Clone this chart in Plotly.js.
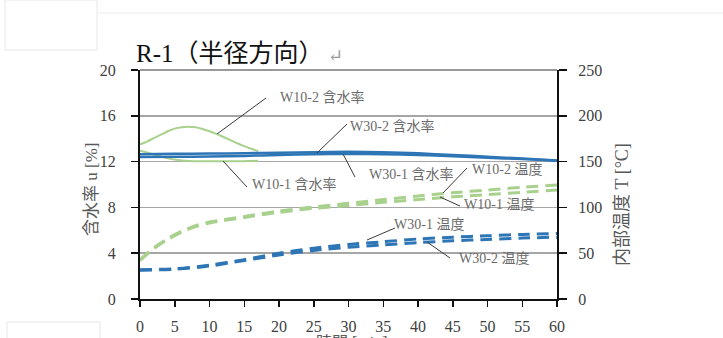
<!DOCTYPE html>
<html>
<head>
<meta charset="utf-8">
<script src="https://cdn.plot.ly/plotly-3.0.1.min.js"></script>
<style>html,body{margin:0;padding:0;background:#fff;}#chart{width:723px;height:338px;}</style>
</head>
<body>
<div id="chart"></div>
<script>
// ---- data ----
const tW10mc = [0,1,2,3,4,5,6,7,8,9,10,11,12,13,14,15,16,17];
const w10_2_mc = [13.5,13.75,14.05,14.35,14.65,14.88,15.0,15.05,15.0,14.85,14.65,14.42,14.15,13.88,13.6,13.35,13.12,12.92];
const w10_1_mc = [12.95,12.8,12.62,12.45,12.3,12.18,12.1,12.05,12.03,12.02,12.02,12.02,12.02,12.03,12.03,12.04,12.05,12.08];

const tW30mc = [0,5,10,15,20,25,30,35,40,45,50,55,60];
const w30_2_mc = [12.65,12.68,12.7,12.73,12.78,12.82,12.85,12.82,12.72,12.58,12.42,12.26,12.1];
const w30_1_mc = [12.4,12.42,12.45,12.5,12.58,12.64,12.66,12.64,12.58,12.46,12.34,12.22,12.08];

const tW10T = [0,2,4,6,8,10,15,20,25,30,35,40,45,50,55,60];
const w10_2_T = [43,56,66,74,80,84,90,96,100.5,104.5,108.5,112.5,116,119,122,124.5];
const w10_1_T = [42,55,65,73,79,83,89,94.5,99,102,105.5,108.5,111.5,114,116.5,119];

const tW30T = [0,5,10,15,20,25,30,35,40,45,50,55,60];
const w30_1_T = [32,33,37,43,50,55.5,59.5,62.5,65.5,67.5,69,70.5,71.5];
const w30_2_T = [31.5,32.5,36,42,48,53,56.5,59,61.5,63.5,65,66.5,67.5];

const xTicks = [0,5,10,15,20,25,30,35,40,45,50,55,60];
const yTicks = [0,4,8,12,16,20];
const y2Ticks = [0,50,100,150,200,250];

// ---- styling ----
const GREEN = '#A9D18E';
const BLUE = '#2E75B6';
const SERIF = '"Liberation Serif", "DejaVu Serif", "Noto Sans CJK JP", serif';
const W = 723, H = 338;
const L = 140, R = 557, T = 70, B = 299;
const px = x => (x - L) / (R - L);
const py = y => (B - y) / (B - T);

function line(x, y, name, color, width, dash, axis) {
  return {x: x, y: y, name: name, type: 'scatter', mode: 'lines', yaxis: axis || 'y',
    line: {color: color, width: width, dash: dash || 'solid', shape: 'spline', smoothing: 0.8},
    hoverinfo: 'skip'};
}
const DASH = '12px,7px';
const traces = [
  line(tW10T, w10_2_T, 'W10-2 温度', GREEN, 3, DASH, 'y2'),
  line(tW10T, w10_1_T, 'W10-1 温度', GREEN, 3, DASH, 'y2'),
  line(tW30T, w30_1_T, 'W30-1 温度', BLUE, 3, DASH, 'y2'),
  line(tW30T, w30_2_T, 'W30-2 温度', BLUE, 3, DASH, 'y2'),
  line(tW10mc, w10_2_mc, 'W10-2 含水率', GREEN, 2),
  line(tW10mc, w10_1_mc, 'W10-1 含水率', GREEN, 2),
  line(tW30mc, w30_2_mc, 'W30-2 含水率', BLUE, 2.5),
  line(tW30mc, w30_1_mc, 'W30-1 含水率', BLUE, 2.5)
];

// labels: [text, left px, center y px, line from (x1,y1) to (x2,y2)]
const labels = [
  ['W10-2 含水率', 278, 97, 266, 98, 217, 134],
  ['W30-2 含水率', 348, 126, 347, 124, 317, 153],
  ['W10-1 含水率', 250, 184, 247, 187, 223, 161],
  ['W30-1 含水率', 367, 174, 355, 177, 343, 154],
  ['W10-2 温度', 470, 169, 467, 168, 443, 193],
  ['W10-1 温度', 462, 204, 460, 206, 440, 197],
  ['W30-1 温度', 392, 224, 395, 228, 367, 240],
  ['W30-2 温度', 457, 258, 450, 258, 427, 242]
];
const annotations = labels.map(l => ({
  text: l[0], xref: 'paper', yref: 'paper', x: px(l[1]), y: py(l[2]),
  xanchor: 'left', yanchor: 'middle', showarrow: false,
  font: {family: SERIF, size: 14, color: '#6b6b6b'}
}));
const shapes = labels.map(l => ({
  type: 'line', xref: 'paper', yref: 'paper', x0: px(l[3]), y0: py(l[4]), x1: px(l[5]), y1: py(l[6]),
  line: {color: '#3a3a3a', width: 1}, layer: 'above'
}));
// top border of the plot area
shapes.push({type: 'line', xref: 'paper', yref: 'paper', x0: 0, x1: 1, y0: 1, y1: 1, line: {color: '#333', width: 1}});
// page decorations (word-processor frame)
shapes.push({type: 'rect', xref: 'paper', yref: 'paper', x0: px(5), x1: px(97), y0: py(0), y1: py(50), line: {color: '#e6e6e6', width: 1}});
shapes.push({type: 'line', xref: 'paper', yref: 'paper', x0: px(97), x1: px(723), y0: py(13), y1: py(13), line: {color: '#ececec', width: 1}});
shapes.push({type: 'rect', xref: 'paper', yref: 'paper', x0: px(7), x1: px(100), y0: py(322), y1: py(345), line: {color: '#e6e6e6', width: 1}});

// axis titles
annotations.push({text: '含水率 u [%]', xref: 'paper', yref: 'paper', x: px(91), y: py(190), textangle: -90,
  showarrow: false, xanchor: 'center', yanchor: 'middle', font: {family: SERIF, size: 17, color: '#595959'}});
annotations.push({text: '内部温度 T [°C]', xref: 'paper', yref: 'paper', x: px(622), y: py(205), textangle: -90,
  showarrow: false, xanchor: 'center', yanchor: 'middle', font: {family: SERIF, size: 18, color: '#595959'}});
annotations.push({text: '時間 [min]', xref: 'paper', yref: 'paper', x: px(352), y: py(332), showarrow: false,
  xanchor: 'center', yanchor: 'top', font: {family: SERIF, size: 16, color: '#595959'}});

const tickFont = {family: SERIF, size: 16, color: '#404040'};
const layout = {
  width: W, height: H,
  margin: {l: L, r: W - R, t: T, b: H - B, pad: 0},
  paper_bgcolor: '#fff', plot_bgcolor: '#fff',
  showlegend: false,
  title: {text: 'R-1（半径方向）<span style="color:#9a9a9a;font-size:18px"> ↵</span>',
    xref: 'container', yref: 'container', x: 136 / W, xanchor: 'left', y: 1 - 53 / H, yanchor: 'middle',
    font: {family: SERIF, size: 25, color: '#111'}},
  xaxis: {range: [0, 60], tickvals: xTicks, ticktext: xTicks.map(String), ticks: 'outside', ticklen: 6,
    tickwidth: 1.5, tickcolor: '#111', showline: true, linecolor: '#111', linewidth: 2, showgrid: false,
    zeroline: false, tickfont: tickFont, ticklabelstandoff: 6, fixedrange: true},
  yaxis: {range: [0, 20], tickvals: yTicks, ticktext: yTicks.map(String), ticks: 'outside', ticklen: 7,
    tickwidth: 1.5, tickcolor: '#111', showline: true, linecolor: '#111', linewidth: 2, showgrid: true,
    gridcolor: '#a6a6a6', gridwidth: 1.5, zeroline: false, tickfont: tickFont, ticklabelstandoff: 12, fixedrange: true},
  yaxis2: {range: [0, 250], tickvals: y2Ticks, ticktext: y2Ticks.map(String), overlaying: 'y', side: 'right',
    ticks: 'outside', ticklen: 8, tickwidth: 1.5, tickcolor: '#111', showline: true, linecolor: '#111',
    linewidth: 2, showgrid: false, zeroline: false, tickfont: tickFont, ticklabelstandoff: 8, fixedrange: true},
  annotations: annotations,
  shapes: shapes
};
Plotly.newPlot('chart', traces, layout, {displayModeBar: false, staticPlot: true});
</script>
</body>
</html>
